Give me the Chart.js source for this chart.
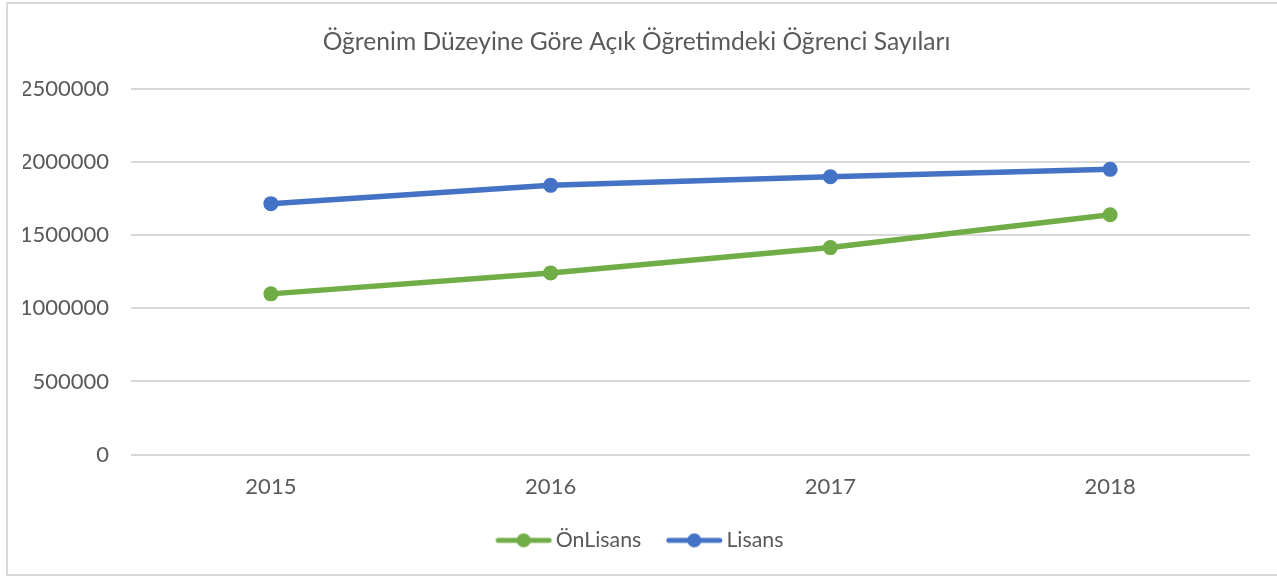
<!DOCTYPE html>
<html>
<head>
<meta charset="utf-8">
<script src="https://cdn.jsdelivr.net/npm/chart.js@4"></script>
<style>
  html, body { margin: 0; padding: 0; background: #fff; overflow: hidden; }
  #wrap { position: relative; width: 1277px; height: 578px; }
  #frame { position: absolute; left: 6px; top: 2px; width: 1300px; height: 574px; border: 2px solid #D9D9D9; box-sizing: border-box; pointer-events: none; }
  canvas { position: absolute; left: 0; top: 0; }
</style>
</head>
<body>
<div id="wrap">
  <canvas id="c" width="1277" height="578"></canvas>
  <div id="frame"></div>
</div>
<script>
const categories = ['2015', '2016', '2017', '2018'];
const onLisans = [1098000, 1241000, 1414000, 1638000];
const lisans = [1714000, 1839000, 1898000, 1948000];
const seriesNames = ['ÖnLisans', 'Lisans'];
const titleText = 'Öğrenim Düzeyine Göre Açık Öğretimdeki Öğrenci Sayıları';

const GREEN = '#70AD47';
const BLUE = '#4472C4';
const TEXT = '#595959';

// legend marker: line with a dot, drawn offset to the right inside a 70px image
function legendIcon(color) {
  const c = document.createElement('canvas');
  c.width = 70; c.height = 16;
  const g = c.getContext('2d');
  g.strokeStyle = color; g.lineWidth = 5; g.lineCap = 'round';
  g.beginPath(); g.moveTo(15.75, 8); g.lineTo(66.75, 8); g.stroke();
  g.fillStyle = color;
  g.beginPath(); g.arc(41.25, 8, 7, 0, Math.PI * 2); g.fill();
  return c;
}
const icons = [legendIcon(GREEN), legendIcon(BLUE)];

Chart.defaults.font.family = 'Lato, "Open Sans", sans-serif';
Chart.defaults.color = TEXT;

new Chart(document.getElementById('c'), {
  type: 'line',
  data: {
    labels: categories,
    datasets: [
      { label: seriesNames[0], data: onLisans, borderColor: GREEN, backgroundColor: GREEN,
        borderWidth: 5.5, pointRadius: 7.5, pointHoverRadius: 7.5, pointBackgroundColor: GREEN, pointBorderWidth: 0, tension: 0 },
      { label: seriesNames[1], data: lisans, borderColor: BLUE, backgroundColor: BLUE,
        borderWidth: 5.5, pointRadius: 7.5, pointHoverRadius: 7.5, pointBackgroundColor: BLUE, pointBorderWidth: 0, tension: 0 }
    ]
  },
  options: {
    responsive: false,
    animation: false,
    devicePixelRatio: 1,
    layout: { padding: { left: 23, right: 27, top: 0, bottom: 17 } },
    plugins: {
      title: {
        display: true, text: titleText, color: TEXT,
        font: { size: 24.6, weight: 'normal' },
        padding: { top: 27, bottom: 32 }
      },
      legend: {
        position: 'bottom',
        labels: {
          usePointStyle: true,
          pointStyleWidth: 55.5,
          padding: 19,
          color: TEXT,
          font: { size: 21.3 },
          generateLabels(chart) {
            return chart.data.datasets.map((ds, i) => ({
              text: ds.label, pointStyle: icons[i], fillStyle: ds.borderColor,
              strokeStyle: ds.borderColor, lineWidth: 0, hidden: false, datasetIndex: i, fontColor: TEXT
            }));
          }
        }
      },
      tooltip: { enabled: false }
    },
    scales: {
      x: {
        offset: true,
        grid: { display: false, drawTicks: false },
        border: { display: false },
        ticks: { padding: 19, color: TEXT, font: { size: 22 } },
        afterFit(scale) { scale.height = 56; }
      },
      y: {
        min: 0, max: 2500000,
        grid: { color: '#D9D9D9', lineWidth: 2, drawTicks: false },
        border: { display: false },
        ticks: { stepSize: 500000, padding: 22, color: TEXT, font: { size: 22 },
          callback: v => String(v) },
        afterFit(scale) { scale.width = 108; }
      }
    }
  }
});
</script>
</body>
</html>
